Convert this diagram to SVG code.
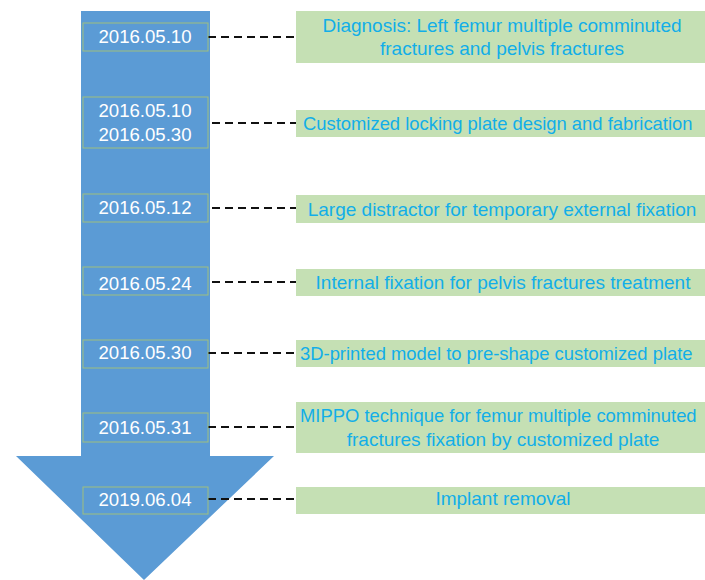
<svg xmlns="http://www.w3.org/2000/svg" width="705" height="580" viewBox="0 0 705 580">
  <style>
    .date-box { fill: #5b9bd5; stroke: #9fbf7f; stroke-width: 1; }
    .date { font-family: "Liberation Sans", Arial, sans-serif; font-size: 18.6px; fill: #ffffff; text-anchor: middle; }
    .event-box { fill: #c5e0b4; }
    .event { font-family: "Liberation Sans", Arial, sans-serif; font-size: 19px; fill: #12aee8; text-anchor: middle; }
    .event.left { text-anchor: start; font-size: 18.4px; }
    .link { stroke: #111111; stroke-width: 2; stroke-dasharray: 8 5; fill: none; }
  </style>

  <!-- timeline arrow -->
  <g id="timeline">
    <polygon points="81,11 210,11 210,456 274,456 144,580 16,456 81,456" fill="#5b9bd5"/>
  </g>

  <!-- connectors -->
  <g id="connectors">
    <line class="link" x1="208" y1="37" x2="297" y2="37"/>
    <line class="link" x1="212" y1="123" x2="297" y2="123"/>
    <line class="link" x1="212" y1="208" x2="297" y2="208"/>
    <line class="link" x1="212" y1="282" x2="297" y2="282"/>
    <line class="link" x1="208" y1="353" x2="297" y2="353"/>
    <line class="link" x1="208" y1="427" x2="297" y2="427"/>
    <line class="link" x1="208" y1="499" x2="297" y2="499"/>
  </g>

  <!-- dates -->
  <g id="date-1">
    <rect class="date-box" x="83" y="23" width="125" height="28"/>
    <text class="date" x="145" y="43">2016.05.10</text>
  </g>
  <g id="date-2">
    <rect class="date-box" x="83" y="97" width="125" height="51"/>
    <text class="date" x="145" y="117">2016.05.10</text>
    <text class="date" x="145" y="141">2016.05.30</text>
  </g>
  <g id="date-3">
    <rect class="date-box" x="83" y="194" width="125" height="28"/>
    <text class="date" x="145" y="214">2016.05.12</text>
  </g>
  <g id="date-4">
    <rect class="date-box" x="83" y="267" width="125" height="28"/>
    <text class="date" x="145" y="290">2016.05.24</text>
  </g>
  <g id="date-5">
    <rect class="date-box" x="83" y="340" width="125" height="28"/>
    <text class="date" x="145" y="359">2016.05.30</text>
  </g>
  <g id="date-6">
    <rect class="date-box" x="83" y="413" width="125" height="29"/>
    <text class="date" x="145" y="434">2016.05.31</text>
  </g>
  <g id="date-7">
    <rect class="date-box" x="83" y="487" width="125" height="27"/>
    <text class="date" x="145" y="506">2019.06.04</text>
  </g>

  <!-- events -->
  <g id="event-1">
    <rect class="event-box" x="296" y="11" width="414" height="52"/>
    <text class="event" x="502" y="32">Diagnosis: Left femur multiple comminuted</text>
    <text class="event" x="502" y="55">fractures and pelvis fractures</text>
  </g>
  <g id="event-2">
    <rect class="event-box" x="296" y="110" width="414" height="27"/>
    <text class="event left" x="303" y="130">Customized locking plate design and fabrication</text>
  </g>
  <g id="event-3">
    <rect class="event-box" x="296" y="195" width="414" height="28"/>
    <text class="event" x="502" y="216">Large distractor for temporary external fixation</text>
  </g>
  <g id="event-4">
    <rect class="event-box" x="296" y="269" width="414" height="27"/>
    <text class="event" x="503" y="289">Internal fixation for pelvis fractures treatment</text>
  </g>
  <g id="event-5">
    <rect class="event-box" x="296" y="340" width="414" height="27"/>
    <text class="event left" x="300" y="360">3D-printed model to pre-shape customized plate</text>
  </g>
  <g id="event-6">
    <rect class="event-box" x="296" y="402" width="414" height="51"/>
    <text class="event left" x="300" y="422">MIPPO technique for femur multiple comminuted</text>
    <text class="event" x="503" y="446">fractures fixation by customized plate</text>
  </g>
  <g id="event-7">
    <rect class="event-box" x="296" y="487" width="414" height="27"/>
    <text class="event" x="503" y="505">Implant removal</text>
  </g>
</svg>
